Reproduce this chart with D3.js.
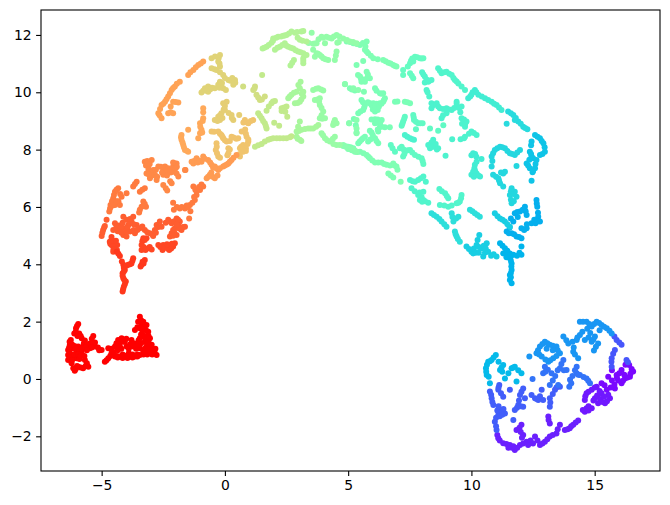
<!DOCTYPE html>
<html>
<head>
<meta charset="utf-8">
<script src="https://cdn.jsdelivr.net/npm/d3@7"></script>
<style>
  html, body { margin: 0; padding: 0; background: #fff; }
  text { font-family: "DejaVu Sans", sans-serif; }
</style>
</head>
<body>
<div id="chart"></div>
<script>
// Axis ticks
var xTicks = [-5, 0, 5, 10, 15]
var yTicks = [-2, 0, 2, 4, 6, 8, 10, 12]

// Points, one list per patch, as x,y pairs
var redLeft = [-5.95,1.92,-6.04,1.77,-6.11,1.59,-5.91,1.59,-5.81,1.42,-5.68,1.34,-5.34,1.5,-5.27,1.27,-5.48,1.24,-6.25,1.36,-6.29,1.19,-6.36,1.01,-6.15,1.07,-5.95,1.13,-5.75,1.13,-5.48,1.07,-5.27,1.13,-5,1.01,-6.36,.84,-6.36,.66,-6.22,.55,-6.02,.72,-5.81,.9,-5.68,.66,-5.54,.43,-5.75,.37,-5.95,.43,-6.09,.29,-6.15,.37,-6.02,.95,
  -6,1.85,-6.05,1.65,-5.98,1.5,-5.85,1.5,-5.72,1.25,-5.6,1.2,-5.4,1.4,-5.35,1.25,-5.4,1.1,-5.15,1.1,-5.1,1,-6.3,1.3,-6.32,1.1,-6.2,1.2,-6.1,1.15,-6.05,1.05,-5.9,1,-5.8,1.05,-5.65,1.1,-5.6,1,-6.3,.93,-6.25,.85,-6.3,.75,-6.15,.75,-6.2,.65,-6.1,.85,-5.95,.85,-5.9,.7,-5.85,.8,-5.7,.8,-5.6,.55,-5.65,.45,-5.85,.4,-6.05,.35,-6,.45]
var redMiddle = [-4.87,.6,-4.73,.72,-4.6,.9,-4.73,1.07,-4.46,1.13,-4.33,1.36,-4.19,1.42,-4.06,1.3,-4.26,1.13,-4.46,.78,-4.26,.78,-4.06,.78,-3.85,.78,-3.65,.78,-3.45,.84,-3.99,1.13,-3.79,1.36,-3.72,1.13,-3.45,1.07,
  -4.8,.65,-4.65,.8,-4.55,.95,-4.6,1.05,-4.5,.85,-4.38,.8,-4.35,1,-4.4,1.25,-4.3,1.25,-4.15,1.3,-4.2,1.05,-4.15,.85,-3.95,.83,-3.9,1.05,-3.85,1.2,-3.9,.9,-3.75,.85,-3.7,1.25,-3.55,.85,-3.6,1.05,-3.55,1.2,-4.35,.75,-4.15,.73,-3.95,.73,-3.75,.75,-3.55,.78,-4,1.4]
var redRight = [-3.45,2.17,-3.52,2,-3.31,2,-3.18,1.88,-3.45,1.77,-3.65,1.71,-3.11,1.65,-3.31,1.53,-3.04,1.42,-3.45,1.42,-3.25,1.3,-2.97,1.19,-3.18,1.13,-2.91,1.01,-2.77,.84,-3.04,.9,-3.31,.95,
  -3.4,2.05,-3.38,1.9,-3.25,1.85,-3.55,1.8,-3.35,1.7,-3.2,1.7,-3.1,1.5,-3.25,1.45,-3.4,1.55,-3.5,1.35,-3.4,1.25,-3.1,1.3,-3.05,1.15,-3,1.05,-3.25,1.05,-3.1,1,-2.85,.92,-2.95,.85,-3.15,.85,-3.3,.85,-2.82,1.05]
var stem = [-4.15,3.05,-4.1,3.22,-4.02,3.4,-4.12,3.51,-4.15,3.69,-4.06,3.8,-4.12,3.98,-3.92,3.98,-3.79,4.03,-3.72,4.21,-4.26,4.29,-4.39,4.44,-3.38,3.98,-3.25,4.15,-3.34,4.09,
  -4.13,3.13,-4.06,3.3,-4.08,3.45,-4.15,3.6,-4.1,3.75,-4.1,3.88,-4,3.95,-3.85,4,-3.75,4.12,-4.32,4.37,-4.18,4.1,-3.3,4.03,-3.42,3.92]
var lowerBand = [-4.6,4.85,-4.46,4.73,-4.6,4.67,-4.46,4.56,-4.53,4.44,-4.37,4.67,-4.67,4.79,-3.31,4.91,-3.18,4.91,-3.38,4.67,-3.38,4.5,-3.11,4.56,-2.97,4.52,-2.7,4.67,-2.53,4.5,-2.39,4.62,-2.26,4.5,-2.1,4.62,-2.03,4.73,-2.23,4.67,-2.5,4.67,
  -4.65,4.72,-4.52,4.8,-4.53,4.62,-4.42,4.82,-4.52,4.52,-4.38,4.5,-4.6,4.95,-3.35,4.8,-3.25,4.85,-3.3,4.6,-3.22,4.5,-2.62,4.6,-2.47,4.58,-2.32,4.55,-2.18,4.55,-2.15,4.72,-2.35,4.7,-3.05,4.6]
var midBand = [-5,4.99,-4.94,5.2,-4.87,5.34,-4.8,5.55,-4.46,5.43,-4.53,5.2,-4.26,5.2,-4.12,5.02,-3.99,4.97,-4.06,5.26,-4.12,5.66,-3.92,5.37,-3.85,5.14,-3.72,5.66,-3.79,5.49,-3.58,5.37,-3.45,5.26,-3.65,5.08,-3.25,5.2,-3.04,5.08,-2.91,4.99,-2.84,5.2,-2.77,5.37,-2.64,5.49,-2.57,5.31,-2.3,5.55,-2.16,5.43,-1.96,5.6,-1.83,5.49,-2.03,5.26,-2.16,5.08,-1.96,5.02,-1.76,5.2,-1.62,5.31,-2.23,4.97,-1.89,5.37,
  -4.97,5.1,-4.9,5.28,-4.4,5.3,-4.35,5.15,-4.2,5.1,-4.3,5.35,-4.2,5.3,-4.15,5.45,-4,5.55,-4,5.15,-3.95,5.3,-3.85,5.45,-3.85,5.58,-3.7,5.4,-3.7,5.2,-3.55,5.2,-3.35,5.32,-3.15,5.12,-2.95,5.05,-2.8,5.1,-2.7,5.3,-2.4,5.45,-2.25,5.5,-2.05,5.5,-1.9,5.55,-2.1,5.2,-2.05,5.1,-1.85,5.25,-1.7,5.3,-1.95,5.38,-2.1,5]
var orangeA = [-4.33,6.65,-4.46,6.53,-4.53,6.3,-4.64,6.07,-4.69,5.84,-4.19,6.36,-4.26,6.07,-4.46,6.07,-3.99,6.48,-3.72,6.71,-3.58,6.88,-3.45,6.53,-3.25,6.65,-3.31,6.19,-3.38,6.01,-3.2,6.01,-3.48,5.81,-2.1,6.15,-2.07,5.9,-1.83,5.95,-1.62,5.95,-1.42,6.07,-1.22,6.24,-1.28,6.71,-1.45,5.6,-1.01,6.59,-.88,6.71,-1.15,6.42,
  -4.4,6.6,-4.5,6.42,-4.58,6.2,-4.66,5.95,-4.25,6.45,-4.32,6.2,-4.4,6.2,-4.55,6.05,-3.65,6.8,-3.35,6.6,-3.3,6.05,-3.45,5.9,-3.25,6.1,-1.95,6,-1.75,6,-1.55,6.05,-1.5,6,-1.32,6.15,-1.25,6.35,-1.15,6.55,-1.05,6.7,-.95,6.78,-1.2,6.6,-1.4,5.85]
var orangeTop = [-3.25,7.58,-2.97,7.64,-3.11,7.41,-2.91,7.29,-3.18,7.17,-3.04,7,-2.84,7.12,-2.7,7.41,-2.43,7.41,-2.5,7.12,-2.3,7.23,-2.03,7.52,-1.96,7.17,-2.16,6.83,-2.5,6.77,-2.34,6.57,-1.6,7.29,-2.77,6.94,-2.1,7.41,-1.96,7.52,-2.3,7.35,-2.1,7.23,-1.89,7.06,-1.62,7.29,
  -3.2,7.45,-3.15,7.6,-3.05,7.5,-3.1,7.3,-3,7.2,-2.95,7.1,-3.08,7.12,-2.8,7.3,-2.75,7.05,-2.6,7.4,-2.5,7.3,-2.4,7.25,-2.35,7.1,-2.2,7.3,-2,7.35,-2.1,7.55,-2.2,7.2,-2.4,6.65,-2.22,6.9,-1.95,7.4,-2.55,7.2]
var orangeEdge = [-1.28,7.52,-1.15,7.7,-1.35,7.58,-.88,7.76,-.95,7.58,-.68,7.64,-.54,7.47,-.41,7.41,-.27,7.29,-.07,7.41,.14,7.52,.27,7.64,.47,7.81,-.61,7.12,-.74,7,-.41,7,
  -1.25,7.6,-1.1,7.55,-1.05,7.62,-.82,7.68,-.6,7.55,-.48,7.38,-.35,7.35,-.2,7.35,0,7.45,.08,7.48,.2,7.58,.35,7.72,-.68,7.05,-.55,7.2,-.5,7.05,-.3,7.1]
var orangeCol = [-1.76,8.51,-1.76,8.34,-1.69,8.16,-1.62,7.99,-1.49,7.93,-1.49,8.69,-1.01,8.92,-.88,9.09,-.88,9.44,-1.01,8.57,-.95,8.69,-1.08,8.4,
  -1.78,8.43,-1.72,8.25,-1.66,8.07,-1.55,7.96,-1,8.8,-.9,9,-.88,9.3,-.92,8.6]
var sandLow = [-.54,8.63,-.27,8.63,-.14,8.51,-.07,8.4,.07,8.28,-.34,8.22,-.37,7.99,-.27,7.76,.14,8.05,.14,7.87,.27,8.45,.54,8.4,.61,8.05,.74,8.16,.88,8.45,.95,8.92,1.15,9.03,.81,9.03,.68,8.63,.95,8.28,.74,7.93,.61,7.76,
  -.44,8.62,-.2,8.55,-.1,8.45,0,8.33,-.33,8.1,-.32,7.87,-.2,7.72,.2,8.3,.35,8.42,.2,8,.46,8.38,.66,8.1,.85,8.05,.92,8.2,.95,8.35,.85,8.55,.82,8.7,.9,8.95,1.05,9,.75,8.95,.7,8,.6,7.85,.1,7.8,.85,7.95]
var sandMid = [-.27,9.15,-.14,9.27,.07,9.67,-.07,9.62,0,9.38,.27,9.21,.34,9.03,-.2,9.03,-.41,9.03,.58,9.21,
  -.2,9.2,-.05,9.4,0,9.52,.15,9.28,-.3,9,-.1,9.1,.28,9.1]
var limeLow = [1.22,8.1,1.49,8.2,1.76,8.34,1.96,8.4,2.23,8.4,2.5,8.4,2.64,8.43,1.35,9.27,1.49,9.09,1.62,8.92,1.69,8.74,2,8.94,2.2,8.83,1.69,9.36,1.89,9.62,2.03,9.7,2.3,9.44,2.5,9.5,2.53,9.15,1.51,10.6,
  1.35,8.15,1.62,8.28,1.85,8.37,2.1,8.4,2.37,8.4,1.42,9.18,1.55,9,1.66,8.82,1.78,9.5,1.95,9.68,2.4,9.47,2.3,9.35,2.45,9.32,2.7,8.47]
var limeHigh = [1.22,10.2,1.15,10.08,1.28,9.91,1.42,9.73,1.62,9.85,.74,10.2,1.2,10.13,1.35,9.82,1.5,9.75]
var arcLeft = [-2.7,9.27,-2.57,9.09,-2.57,9.56,-2.43,9.67,-2.3,9.85,-2.16,10.08,-2.03,10.2,-1.83,10.37,-2.3,9.27,-2.1,9.27,-2.1,9.67,-1.89,9.64,-1.49,10.6,-1.28,10.78,-1.08,10.95,-.88,11.07,
  -2.63,9.42,-2.5,9.6,-2.37,9.76,-2.23,9.97,-2.1,10.15,-1.95,10.3,-2.65,9.2,-2.2,9.3,-2.2,9.5,-2,9.66,-1.4,10.7,-1.18,10.87,-.98,11]
var arcRight = [-.54,11.19,-.2,11.3,-.27,11.07,-.2,10.9,-.54,10.84,-.34,10.78,-.07,10.6,.14,10.43,.41,10.43,.34,10.26,-.2,10.37,-.27,10.26,-.07,10.14,-.41,10.14,-.68,10.2,-.81,10.14,-.95,9.99,-.68,10.02,.04,10.08,
  -.4,11.25,-.25,11.2,-.22,11,-.42,10.8,-.2,10.7,0,10.5,.22,10.4,.36,10.35,-.15,10.25,-.12,10.32,-.22,10.16,-.52,10.16,-.6,10.1,-.75,10.05,-.88,10.05,.3,10.5,.42,10.33]
var topArcA = [1.53,11.53,1.69,11.59,1.89,11.73,1.96,11.88,2.16,11.94,2.37,11.97,2.5,12,2.03,11.48,2.23,11.59,2.43,11.71,2.57,11.59,2.77,11.53,2.97,11.42,3.18,11.36,2.7,12.12,2.84,12.08,3.18,12.14,3.04,11.83,3.31,11.77,3.18,11.19,3.18,11.01,2.8,11.13,2.66,10.93,3.31,11.3,
  1.6,11.55,1.78,11.65,1.95,11.8,2.08,11.9,2.28,11.95,2.43,11.98,2.13,11.55,2.33,11.65,2.5,11.62,2.67,11.55,2.87,11.47,3.07,11.4,2.6,12.05,2.93,12.1,3.1,12.12,2.95,11.9,3.15,11.8,3.18,11.1,2.73,11.03]
var topArcB = [3.52,12.08,3.58,11.69,3.72,11.71,3.92,11.94,4.12,11.94,4.33,11.88,4.53,12,4.8,11.88,5.07,11.77,5.34,11.71,4.56,11.73,4.06,11.71,3.72,11.36,3.85,11.3,3.65,11.24,3.99,11.19,4.19,11.13,4.53,11.42,4.46,11.13,3.58,11.48,
  3.4,11.72,3.65,11.7,3.98,11.9,4.22,11.9,4.42,11.95,4.65,11.95,4.95,11.82,5.2,11.75,4.62,11.75,3.78,11.34,3.92,11.25,4.08,11.15,4.5,11.28,3.8,11.85]
var greenA = [3.07,10.37,3.04,10.14,2.91,10.02,2.7,9.91,2.57,9.79,3.18,10.02,3.18,9.85,3.04,9.67,2.84,9.62,3.04,8.98,2.91,8.63,3.11,8.69,3.38,8.74,3.58,8.74,3.79,8.86,2.91,8.45,3.04,8.34,
  2.98,10.25,2.8,9.98,2.63,9.85,3.12,9.95,3.1,9.75,2.95,9.63,2.97,8.8,3,8.65,3.25,8.72,3.48,8.74,2.95,8.38,3.7,8.8,3.1,8.3]
var greenB = [3.58,10.08,3.79,10.14,3.99,10.06,3.65,9.73,3.85,9.79,3.85,9.56,3.99,9.33,3.85,9.09,4.06,9.09,4.46,9.03,4.53,8.92,4.39,8.86,3.92,8.57,4.06,8.4,4.26,8.28,4.46,8.45,4.53,8.16,
  3.7,10.12,3.9,10.1,3.75,9.75,3.82,9.68,3.92,9.45,3.92,9.2,3.95,9.08,4.47,8.97,4.42,8.95,3.98,8.5,4.15,8.33,4.38,8.38,4.4,8.2,4.66,8.16]
var greenC = [5.04,8.92,5.34,9.03,5.34,8.74,5.34,8.57,4.87,10.28,5.21,10.14,5.41,10.08,4.8,8.16,5,8.05,5.21,7.99,5.34,7.93,5.12,8.02,4.9,8.1,5.28,7.96]
var mintTop = [4.94,11.77,5.21,11.71,5.48,11.65,5.75,11.77,5.68,11.48,5.81,11.36,6.02,11.19,6.42,11.13,6.63,11.03,6.83,10.95,6.96,10.9,5.34,10.95,5.61,11.09,4.87,10.29,5.07,10.14,5.27,10.06,5.64,10.02,5.48,10.55,5.54,10.37,5.75,10.72,5.88,10.49,5.68,10.37,
  5.08,11.75,5.35,11.68,5.6,11.72,5.7,11.6,5.75,11.42,5.92,11.27,6.2,11.15,6.52,11.08,6.72,11,6.9,10.92,5.15,10.1,5.4,10.6,5.52,10.47,5.8,10.62,5.78,10.5,5.6,10.4,5.65,10.45]
var mintMid = [6.09,10.14,6.29,9.97,6.42,9.97,5.54,9.73,5.68,9.56,5.61,9.38,5.41,9.27,5.88,9.62,6.02,9.62,6.15,9.44,6.09,9.33,6.29,9.62,6.42,9.67,6.49,9.79,6.9,9.67,7.3,9.67,7.51,9.62,5.23,9.07,5.04,8.92,5.31,8.85,5.34,8.6,6.09,9.06,6.36,9.03,6.09,8.92,6.29,8.8,6.22,8.63,6.49,8.78,6.69,8.78,5.88,8.66,5.68,8.45,5.54,8.34,5.41,8.22,6.09,8.4,6.22,8.22,5.81,8.28,
  6.15,10.05,6.35,9.95,5.6,9.65,5.65,9.47,5.5,9.33,5.8,9.65,5.95,9.55,6.05,9.48,6.15,9.6,6,9.4,6.2,9.38,6.1,9.5,6.25,9.5,6.35,9.6,6.45,9.72,7.4,9.65,5.95,9.05,6.2,9.05,6.15,8.95,6.2,8.7,6.35,8.8,6.3,8.95,5.95,8.6,5.6,8.4,5.47,8.28,6.15,8.3,6,8.5,5.9,8.35,7,9.68]
var mintLow = [4.8,8.13,5,8.1,5.21,8.05,5.27,7.93,5.48,7.93,5.75,7.81,5.88,7.7,6.09,7.55,6.36,7.55,6.56,7.47,6.83,7.52,6.96,7.41,6.63,7.17,6.83,7.03,7.13,6.88,
  4.9,8.12,5.1,8.08,5.15,7.98,5.38,7.92,5.62,7.87,5.82,7.75,5.98,7.62,6.22,7.55,6.46,7.5,6.7,7.45,6.88,7.45,6.73,7.1,7,7.3,5,8.02]
var tealTop = [7.23,10.78,7.23,10.6,7.51,11.01,7.71,11.24,7.91,11.19,8.05,11.19,7.64,11.07,7.51,10.66,7.64,10.49,7.55,11.1,7.8,11.22,7.98,11.18,7.42,10.9,7.58,10.58,7.6,11.18]
var tealMid = [6.73,8.16,6.9,7.93,7.17,8.1,7.3,7.93,7.23,7.76,7.51,7.99,7.71,7.81,7.98,7.7,8.05,7.5,7.3,9.15,7.23,8.98,7.17,8.83,7.64,9.21,7.67,9.03,7.84,8.92,8.02,8.92,7.75,8.71,8.32,8.74,8.65,8.66,8.86,8.85,
  6.8,8.05,7.1,8.05,7.25,8,7.28,7.85,7.42,7.98,7.6,7.9,7.85,7.75,8.02,7.6,7.27,9.07,7.2,8.9,7.66,9.12,7.75,8.97,7.93,8.92]
var tealUpper = [8,10.7,8.11,10.55,8.25,10.37,8.11,10.34,8.38,10.43,8.18,10.08,8.29,9.85,8.65,10.84,8.79,10.66,8.99,10.72,9.2,10.6,9.33,10.43,9.47,10.31,9.74,10.08,
  8.05,10.62,8.18,10.45,8.3,10.4,8.22,10,8.72,10.75,8.9,10.7,9.1,10.65,9.27,10.5,9.4,10.38,9.6,10.2]
var tealLow = [7.3,8.51,7.51,8.4,7.67,8.34,8.25,8.16,8.45,8.34,8.52,8.1,8.65,8.05,8.32,8.05,9.22,8.36,9.56,8.36,9.74,8.45,10,8.63,10.21,8.51,8.95,7.79,8.38,9.62,8.38,9.44,8.59,9.62,8.72,9.44,8.99,9.44,9.2,9.38,9.4,9.67,9.4,9.5,9.6,9.5,8.79,9.09,8.99,9.27,9.6,9.09,9.8,8.98,9.74,8.8,
  7.4,8.45,7.6,8.36,8.32,8.15,8.38,8.25,8.42,8.1,8.55,8.2,8.6,8,9.7,8.4,9.9,8.55,10.1,8.58,8.45,9.55,8.65,9.5,8.85,9.42,9.1,9.4,9.3,9.45,9.4,9.6,9.5,9.45,9.55,9.3,9.7,9.05,9.62,8.9,9.75,8.9,8.85,9.2]
var tealEdge = [10.14,10.08,10,9.91,9.87,9.79,10.28,9.91,10.55,9.79,10.82,9.67,11.02,9.56,11.22,9.38,10.05,10,10.2,10,9.95,9.85,10.42,9.85,10.68,9.73,10.92,9.6,11.12,9.47]
var cyanEdge = [11.49,9.33,11.7,9.21,11.9,8.98,12.1,8.8,12.27,8.71,11.43,8.9,11.76,9.03,11.6,9.27,11.8,9.1,12,8.9,12.18,8.75]
var cyanMid = [10.07,7.87,10.14,7.47,10.21,7.58,10.07,7.23,10.21,7.17,10.35,7.06,10,7.12,10.41,7.67,10.15,7.85,10,7.8,10.12,7.35,10.15,7.25,10.28,7.1,10.1,7.05,10.2,7.75]
var cyanHook = [10.82,7.76,10.95,7.99,11.16,8.1,11.36,8.05,11.56,7.87,11.76,7.81,11.97,7.99,10.82,7.41,11.83,7.43,10.88,7.12,11.09,7,11.16,6.83,11.29,7.17,11.36,7.23,11.63,6.65,11.56,6.42,11.76,6.53,11.63,6.13,11.83,6.36,11.29,6.71,
  10.88,7.87,11.05,8.05,11.25,8.08,11.46,7.95,11.66,7.85,11.86,7.9,10.85,7.6,11,7.05,11.12,6.92,11.2,7.2,11.6,6.55,11.7,6.45,11.6,6.25,11.72,6.2]
var cyanRight = [12.58,8.51,12.78,8.4,12.92,8.22,12.98,7.93,12.78,7.81,12.44,8.28,12.37,7.93,12.44,7.76,12.24,7.52,12.37,7.35,12.64,7.64,12.58,7.35,12.48,7.21,12.44,6.91,
  12.68,8.45,12.85,8.3,12.97,8.08,12.88,7.85,12.42,8.15,12.42,7.85,12.35,7.65,12.3,7.45,12.6,7.5,12.5,7.25,12.5,7.7]
var lowArcA = [7.51,6.94,7.71,6.88,7.84,6.94,8.05,7.06,8.15,6.88,7.57,6.65,7.84,6.42,8.05,6.53,8.05,6.24,8.25,6.15,7.91,6.24,8.7,6.63,8.93,6.48,9.06,6.3,8.72,6.07,9.06,6.01,9.4,6.13,9.53,6.19,9.6,6.42,
  7.62,6.9,7.95,7,7.7,6.55,7.9,6.5,7.98,6.35,8.12,6.2,8,6.18,8.8,6.55,9,6.38,8.9,6.05,9.2,6.05,9.47,6.15,9.58,6.3]
var lowArcB = [8.38,5.78,8.59,5.66,8.79,5.49,8.99,5.31,9.2,5.78,9.27,5.49,9.47,5.66,9.33,5.14,9.4,4.97,9.53,4.79,9.94,5.9,10.14,5.78,10.34,5.66,
  8.48,5.72,8.7,5.58,8.9,5.4,9.23,5.65,9.38,5.6,9.36,5.05,9.45,4.88,10.04,5.85,10.24,5.72]
var lowArcC = [9.8,4.62,10,4.44,10.21,4.67,10.32,5.02,10.41,4.56,10.62,4.73,10.68,4.44,10.48,4.27,11.02,4.27,10.07,4.38,10.95,5.78,11.16,5.6,11.36,5.49,11.56,5.31,
  9.9,4.53,10.1,4.55,10.25,4.85,10.3,4.6,10.5,4.65,10.58,4.55,10.55,4.4,10.8,4.3,10.18,4.4,11.06,5.68,11.26,5.55,11.46,5.4,10.3,4.4,10.9,4.35]
var skyRight = [11.76,5.78,11.97,5.84,12.17,6.01,12.24,5.72,12.64,6.24,12.67,6.01,12.71,5.66,12.78,5.49,12.44,5.43,11.7,5.49,11.43,5.14,11.63,5.08,12.03,5.26,12.24,5.26,11.83,4.97,12.03,4.91,
  11.86,5.82,12.08,5.9,12.2,5.85,12.65,6.12,12.7,5.8,12.72,5.5,12.6,5.43,12.55,5.55,11.55,5.28,11.52,5.08,11.73,5.05,12.14,5.2,11.93,4.95,12.25,5.4,11.6,5.6,11.88,5.65]
var skyTail = [11.16,4.73,11.36,4.56,11.56,4.38,11.29,4.38,11.56,4.21,11.7,4.33,12.03,4.33,12.03,4.62,11.63,4.03,11.63,3.8,11.56,3.63,11.63,3.34,11.56,3.45,
  11.26,4.65,11.46,4.47,11.42,4.35,11.6,4.28,11.85,4.3,11.95,4.4,11.6,4.12,11.62,3.92,11.6,3.7,11.6,3.55,11.42,4.25]
var ringTop = [10.99,.84,10.82,.66,10.68,.6,10.59,.37,10.62,.14,11.29,.49,11.16,.31,11.36,.02,11.63,.37,11.76,.43,12.03,.2,11.83,-.09,10.75,-.15,
  10.9,.75,10.75,.62,10.63,.5,10.6,.25,10.7,.08,11.22,.4,11.25,.25,11.5,.2,11.7,.4,11.9,.3,11.1,.6]
var ringBlue = [12.98,1.3,12.78,1.13,12.64,.9,12.85,.78,13.18,1.19,13.45,1.13,13.59,.9,13.32,.72,13.12,.6,12.35,.78,13.73,1.48,13.93,1.24,14.27,1.36,14.4,1.53,14.13,.95,14.33,.72,
  12.88,1.22,12.7,1,12.75,.85,13.08,1.25,13.3,1.16,13.5,1,13.45,.8,13.2,.65,13,.68,13.85,1.35,14.1,1.3,14.3,1.45,14.15,1.1,14.2,.85,13.05,1.05,13.3,1]
var ringArc = [14.4,2,14.67,2,14.88,1.83,15.08,2,15.28,1.88,15.49,1.77,15.69,1.59,14.88,1.3,15.01,1.48,14.6,1.36,14.97,.99,15.14,1.24,
  14.53,2,14.78,1.92,14.98,1.92,15.18,1.95,15.38,1.82,15.6,1.68,14.75,1.45,14.95,1.38,15.05,1.12,14.5,1.65,14.7,1.75,15.2,1.7,14.82,1.6]
var ringShoulder = [15.89,1.36,16.09,1.19,15.8,1.48,16,1.27,15.82,1.01,15.69,.72,15.69,.43,16.29,.66,15.75,.88,15.68,.6,16.35,.58]
var ringRight = [16.4,.49,16.09,.31,15.89,.14,16.56,.26,16.43,.08,16.23,.02,16.09,-.15,15.55,.08,15.28,-.15,15.49,-.38,15.82,-.33,
  15.7,.3,16.25,.5,16.5,.35,16.45,.18,16.33,.05,16,.2,16.15,-.06,15.95,-.05,15.7,-.05,15.8,-.2,15.65,-.3,15.4,-.22,15.9,.05,16.2,.15]
var ringLow = [14.67,-.5,14.88,-.38,15.08,-.27,15.28,-.5,15.01,-.67,15.42,-.85,15.14,-.85,15.62,-.67,14.6,-.73,14.67,-1.02,14.6,-1.14,14.88,-1.02,
  14.75,-.45,15,-.3,15.2,-.42,15.1,-.58,15.22,-.7,15.32,-.8,15.5,-.78,15.55,-.55,14.95,-.75,14.75,-.95,14.75,-1.1,14.52,-1.08,14.62,-.6,15.38,-.62]
var ringCenter = [13.73,.66,13.59,.37,12.98,.43,12.91,.2,13.25,.2,13.86,.31,14.27,.43,14.27,.2,14,-.03,14.4,.14,14.67,.02,14.81,-.15,13.97,-.27,12.48,0,13.18,-.21,13.52,-.21,
  13.65,.52,13.5,.3,13.1,.32,13,.25,13.75,.3,14.2,.3,14.1,.1,14.33,.15,14.55,.07,14.74,-.06,14.05,-.15,13.3,-.05,13.4,.1]
var ringInner = [13.39,-.38,13.18,-.67,13.18,-.97,13.59,-.27,12.85,-.38,12.71,-.73,12.58,-.67,12.91,-.73,12.44,-.56,13.45,-.3,13.3,-.52,13.2,-.82,12.78,-.6,12.65,-.7]
var ringCol = [11.13,-.21,11.09,-.38,10.75,-.44,11.56,-.38,11.29,-.62,10.82,-.67,10.89,-.91,12.1,-.33,11.97,-.56,12.17,-.67,11.9,-.91,12.1,-.97,11.76,-1.08,11.16,-1.08,11.09,-1.26,11.36,-1.2,10.95,-1.49,11.7,-1.43,11.02,-1.78,
  11.1,-.3,11.2,-.5,10.8,-.55,10.85,-.8,11.93,-.75,12.03,-.45,12,-.95,11.85,-1,11.05,-1.1,11.22,-1.15,11,-1.35,11,-1.65,11.3,-1.05,11.1,-.95,11.15,-1.3,11.25,-1.25]
var ringBottom = [11.09,-2.07,11.29,-2.24,11.56,-2.3,11.76,-2.48,11.97,-2.3,12.24,-2.19,12.58,-2.01,12.78,-2.3,12.98,-2.19,13.18,-2.01,13.45,-1.9,13.59,-1.6,13.12,-1.31,13.18,-1.55,12.03,-1.6,11.83,-1.78,12.1,-1.95,13.99,-1.72,14.13,-1.6,14.33,-1.45,13.79,-1.78,
  11.15,-2.15,11.42,-2.27,11.65,-2.4,11.86,-2.4,12.1,-2.25,12.4,-2.15,12.68,-2.15,12.88,-2.25,13.08,-2.1,13.3,-1.95,13.5,-1.75,13.13,-1.43,11.05,-1.95,11.95,-1.7,12,-1.85,12.05,-2.05,13.9,-1.75,14.05,-1.65,14.23,-1.52,12.5,-2.25,12.3,-2.3,11.7,-2.35,11.5,-2.4]

// Each patch with its position on the rainbow colour map
var patches = [
  [ringRight, .01], [ringBottom, .04], [ringLow, .03], [ringShoulder, .11], [ringInner, .12], [ringCol, .12],
  [ringCenter, .15], [ringArc, .2], [ringBlue, .2], [ringTop, .26],
  [skyTail, .25], [skyRight, .24], [lowArcC, .3], [cyanRight, .28], [cyanHook, .32],
  [cyanEdge, .33], [lowArcB, .34], [cyanMid, .38], [tealEdge, .38], [lowArcA, .41],
  [tealLow, .4], [tealUpper, .41], [tealMid, .44], [tealTop, .45], [mintLow, .5],
  [mintMid, .49], [mintTop, .5], [greenC, .52], [greenB, .55], [topArcB, .54],
  [greenA, .58], [topArcA, .6], [limeLow, .63], [limeHigh, .66], [arcRight, .69],
  [sandMid, .7], [sandLow, .72], [arcLeft, .78], [orangeCol, .77], [orangeEdge, .79],
  [orangeTop, .82], [orangeA, .84], [midBand, .88], [lowerBand, .91], [stem, .93],
  [redLeft, .995], [redMiddle, 1], [redRight, 1]
]

var width = 670, height = 505
var margin = {top: 10, right: 10, bottom: 34, left: 41}

var svg = d3.select("#chart")
  .append("svg")
  .attr("width", width)
  .attr("height", height)

// Same domain padding as the original axes
var x = d3.scaleLinear()
  .domain([-7.46, 17.65])
  .range([margin.left, width - margin.right])

var y = d3.scaleLinear()
  .domain([-3.21, 12.87])
  .range([height - margin.bottom, margin.top])

// Matplotlib rainbow
function rainbow(t) {
  var r = Math.min(1, Math.abs(2 * t - .5))
  var g = Math.sin(Math.PI * t)
  var b = Math.cos(Math.PI * t / 2)
  return d3.rgb(r * 255, g * 255, b * 255)
}

// Flatten the pairs for the join
var points = []
patches.forEach(function(p) {
  for (var i = 0; i < p[0].length; i += 2) {
    points.push({x: p[0][i], y: p[0][i + 1], c: p[1]})
  }
})

svg.append("g")
  .selectAll("circle")
  .data(points)
  .enter()
  .append("circle")
  .attr("cx", function(d) { return x(d.x) })
  .attr("cy", function(d) { return y(d.y) })
  .attr("r", 3)
  .attr("fill", function(d) { return rainbow(d.c) })

// Axes
var xAxis = svg.append("g")
  .attr("transform", "translate(0," + (height - margin.bottom) + ")")
  .call(d3.axisBottom(x).tickValues(xTicks).tickSize(4.9).tickPadding(4.5)
    .tickFormat(function(d) { return String(d).replace("-", "\u2212") }))

var yAxis = svg.append("g")
  .attr("transform", "translate(" + margin.left + ",0)")
  .call(d3.axisLeft(y).tickValues(yTicks).tickSize(4.9).tickPadding(4.5)
    .tickFormat(function(d) { return String(d).replace("-", "\u2212") }))

svg.selectAll(".tick text")
  .attr("font-size", 13.9)
  .attr("fill", "#000")
  .style("font-family", "'DejaVu Sans', sans-serif")

svg.selectAll(".tick line").attr("stroke", "#000").attr("stroke-width", 1.1)
svg.selectAll(".domain").remove()

// Frame
svg.append("rect")
  .attr("x", margin.left)
  .attr("y", margin.top)
  .attr("width", width - margin.left - margin.right)
  .attr("height", height - margin.top - margin.bottom)
  .attr("fill", "none")
  .attr("stroke", "#000")
  .attr("stroke-width", 1.1)
</script>
</body>
</html>
